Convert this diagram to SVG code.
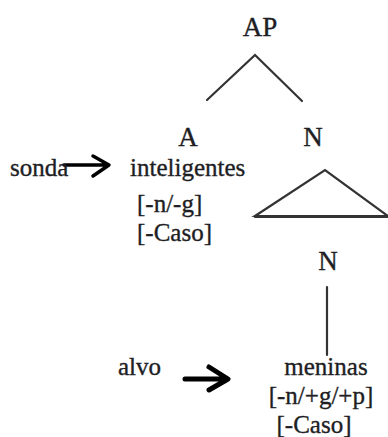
<svg xmlns="http://www.w3.org/2000/svg" width="388" height="437" viewBox="0 0 388 437">
<style>
text{font-family:'Liberation Serif','DejaVu Serif',serif;fill:#1e1e24;stroke:#1e1e24;stroke-width:0.35;}
.lbl{font-size:27px;}
.w{font-size:25px;}
.edge{stroke:#333;stroke-width:2.2;fill:none;stroke-linecap:round;}
.arr{stroke:#000;fill:none;stroke-linecap:round;stroke-linejoin:round;}
</style>
<rect width="388" height="437" fill="#fff"/>
<g id="connectors">
<path class="edge" d="M207,100 L255,55 L302,101"/>
<path class="edge" d="M255,216 L325,170 L388,216 Z"/>
<line class="edge" x1="255" y1="217" x2="388" y2="217"/>
<line class="edge" x1="327" y1="287" x2="327" y2="355"/>
<path class="arr" stroke-width="3.5" d="M64,165 L108,165 M93,156 L109,165 L93,176"/>
<path class="arr" stroke-width="5" d="M185,379 L226,379 M209,367 L228,379 L209,390"/>
</g>
<g id="AP"><text class="lbl" x="260" y="36" text-anchor="middle">AP</text></g>
<g id="A"><text class="lbl" x="188" y="146" text-anchor="middle">A</text></g>
<g id="N1"><text class="lbl" x="313" y="146" text-anchor="middle">N</text></g>
<g id="N2"><text class="lbl" x="328" y="270" text-anchor="middle">N</text></g>
<g id="inteligentes">
<text class="w" x="130" y="176">inteligentes</text>
<text class="w" x="137" y="212">[-n/-g]</text>
<text class="w" x="137" y="241">[-Caso]</text>
</g>
<g id="sonda"><text class="w" x="10" y="176">sonda</text></g>
<g id="alvo"><text class="w" x="118" y="375">alvo</text></g>
<g id="meninas">
<text class="w" x="326" y="375" text-anchor="middle">meninas</text>
<text class="w" x="321" y="404" text-anchor="middle">[-n/+g/+p]</text>
<text class="w" x="314" y="433" text-anchor="middle">[-Caso]</text>
</g>
</svg>
